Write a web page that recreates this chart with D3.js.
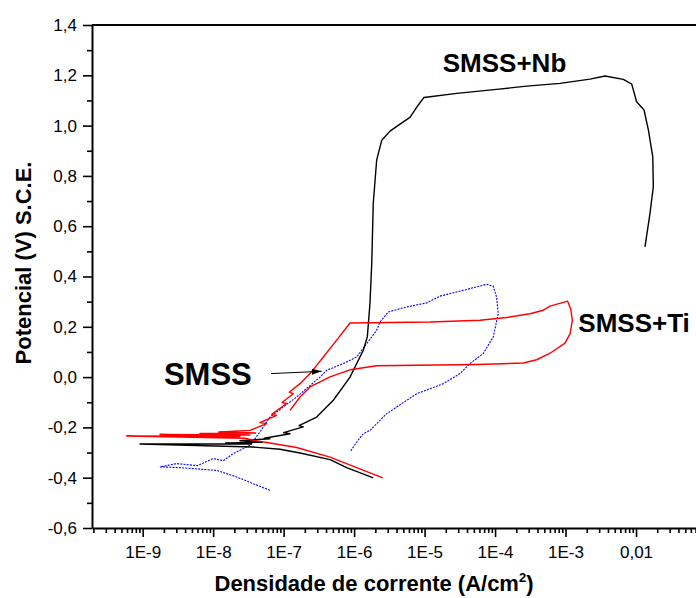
<!DOCTYPE html>
<html><head><meta charset="utf-8">
<script src="https://cdn.jsdelivr.net/npm/d3@7"></script>
<style>html,body{margin:0;padding:0;background:#fff;overflow:hidden}</style>
</head><body><svg id="c" width="696" height="598"></svg>
<script>
// ---- data ----
const yTicks = [-0.6, -0.4, -0.2, 0.0, 0.2, 0.4, 0.6, 0.8, 1.0, 1.2, 1.4];
const yTickLabels = ["-0,6", "-0,4", "-0,2", "0,0", "0,2", "0,4", "0,6", "0,8", "1,0", "1,2", "1,4"];
const yMinor = [-0.5, -0.3, -0.1, 0.1, 0.3, 0.5, 0.7, 0.9, 1.1, 1.3];
const xTicks = [1e-9, 1e-8, 1e-7, 1e-6, 1e-5, 1e-4, 1e-3, 1e-2];
const xTickLabels = ["1E-9", "1E-8", "1E-7", "1E-6", "1E-5", "1E-4", "1E-3", "0,01"];

// SMSS (blue, dotted): [current density A/cm2, potential V]
const smss = [
  [6.40e-8, -0.450], [3.71e-8, -0.424], [2.16e-8, -0.397], [1.12e-8, -0.371], [3.38e-9, -0.360],
  [1.76e-9, -0.357], [3.04e-9, -0.344], [6.0e-9, -0.352], [1.00e-8, -0.324], [1.4e-8, -0.332],
  [1.93e-8, -0.304], [3.33e-8, -0.271], [4.62e-8, -0.218], [6.40e-8, -0.159], [9.88e-8, -0.119],
  [1.53e-7, -0.079], [3.28e-7, 0.000], [4.08e-7, 0.027], [7.03e-7, 0.054], [1.09e-6, 0.080],
  [1.51e-6, 0.133], [2.09e-6, 0.186], [2.33e-6, 0.219], [3.05e-6, 0.259], [5.57e-6, 0.279],
  [1.07e-5, 0.295], [1.66e-5, 0.322], [3.54e-5, 0.345], [7.60e-5, 0.369], [9.44e-5, 0.361],
  [1.05e-4, 0.319], [1.11e-4, 0.253], [9.44e-5, 0.160], [6.81e-5, 0.094], [4.42e-5, 0.054],
  [3.18e-5, 0.014], [1.85e-5, -0.026], [7.73e-6, -0.066], [4.02e-6, -0.119], [2.90e-6, -0.145],
  [1.68e-6, -0.212], [1.35e-6, -0.225], [1.09e-6, -0.258], [8.75e-7, -0.298]
];

// SMSS+Ti (red)
const smssTi = [
  [2.55e-6, -0.401], [4.55e-7, -0.318], [1.53e-7, -0.280], [6.40e-8, -0.262], [3.71e-8, -0.251],
  [2.83e-8, -0.243], [5.93e-10, -0.234], [2.40e-8, -0.236], [1.76e-9, -0.228], [3.33e-8, -0.230],
  [6.50e-9, -0.224], [4.0e-8, -0.222], [1.2e-8, -0.218], [3.33e-8, -0.212], [5.75e-8, -0.185],
  [4.6e-8, -0.181], [7.97e-8, -0.152], [6.8e-8, -0.148], [1.10e-7, -0.105], [9.5e-8, -0.101],
  [1.37e-7, -0.066], [1.2e-7, -0.060], [1.71e-7, -0.026], [2.37e-7, 0.014],
  [3.66e-7, 0.080], [5.66e-7, 0.147], [8.75e-7, 0.215], [1.19e-5, 0.219], [6.11e-5, 0.226],
  [1.46e-4, 0.237], [3.13e-4, 0.252], [4.84e-4, 0.266], [6.03e-4, 0.282], [1.07e-3, 0.302],
  [1.18e-3, 0.273], [1.25e-3, 0.226], [1.16e-3, 0.173], [9.84e-4, 0.135], [6.03e-4, 0.095],
  [3.90e-4, 0.069], [2.52e-4, 0.056], [5.50e-5, 0.050], [2.09e-6, 0.045], [8.75e-7, 0.029],
  [4.55e-7, 0.001], [2.37e-7, -0.039], [1.71e-7, -0.079], [1.23e-7, -0.132]
];

// SMSS+Nb (black)
const smssNb = [
  [1.87e-6, -0.401], [7.85e-7, -0.360], [4.55e-7, -0.328], [1.71e-7, -0.302], [8.87e-8, -0.287],
  [3.67e-8, -0.278], [9.16e-10, -0.266], [3.5e-8, -0.266], [1.5e-8, -0.262], [5.0e-8, -0.259],
  [2.4e-8, -0.253], [6.40e-8, -0.245], [5.3e-8, -0.243], [1.23e-7, -0.225], [1.0e-7, -0.221],
  [1.90e-7, -0.198], [1.65e-7, -0.193], [2.94e-7, -0.159],
  [5.07e-7, -0.092], [8.75e-7, 0.000], [1.35e-6, 0.107], [1.54e-6, 0.160], [1.68e-6, 0.293],
  [1.78e-6, 0.453], [1.87e-6, 0.690], [2.09e-6, 0.863], [2.47e-6, 0.942], [3.23e-6, 0.978],
  [4.48e-6, 1.006], [6.21e-6, 1.033], [8.15e-6, 1.082], [9.82e-6, 1.112], [2.86e-5, 1.128],
  [1.05e-4, 1.144], [2.81e-4, 1.157], [8.36e-4, 1.168], [2.22e-3, 1.185], [3.63e-3, 1.197],
  [6.61e-3, 1.184], [8.69e-3, 1.165], [1.02e-2, 1.095], [1.30e-2, 1.062], [1.50e-2, 0.982],
  [1.73e-2, 0.876], [1.76e-2, 0.757], [1.58e-2, 0.651], [1.34e-2, 0.518]
];

// annotation anchors (data units)
const labelNb = {text: "SMSS+Nb", i: 1.81e-5, e: 1.215};
const labelTi = {text: "SMSS+Ti", i: 1.52e-3, e: 0.180};
const labelSmss = {text: "SMSS", i: 2.0e-9, e: -0.033};
const arrowSmss = {from: [6.62e-8, 0.014], to: [3.47e-7, 0.023]};

// ---- chart ----
const svg = d3.select("#c");
const font = "'Liberation Sans', Arial, sans-serif";
const x = d3.scaleLog().domain([1.91e-10, 0.071]).range([92, 696]);
const y = d3.scaleLinear().domain([-0.6, 1.4]).range([528, 25]);

// minor x ticks
const xMinor = [];
for (let d = -10; d <= -1; d++) {
  for (let m = 2; m <= 9; m++) {
    const v = m * Math.pow(10, d);
    if (v >= x.domain()[0] && v <= x.domain()[1]) xMinor.push(v);
  }
}

const gx = svg.append("g").attr("transform", `translate(0,${y(-0.6)})`)
  .call(d3.axisBottom(x).tickValues(xTicks).tickFormat((d, i) => xTickLabels[i])
    .tickSize(9).tickSizeOuter(0).tickPadding(9));
gx.select(".domain").attr("stroke-width", 2);
gx.selectAll(".tick line").attr("stroke-width", 1.6);
gx.selectAll(".tick text").attr("font-family", font).attr("font-size", 17).attr("fill", "#000");

const gxm = svg.append("g").attr("transform", `translate(0,${y(-0.6)})`)
  .call(d3.axisBottom(x).tickValues(xMinor).tickFormat("").tickSize(5).tickSizeOuter(0));
gxm.select(".domain").remove();
gxm.selectAll(".tick line").attr("stroke-width", 1.6);

const gy = svg.append("g").attr("transform", `translate(${x.range()[0]},0)`)
  .call(d3.axisLeft(y).tickValues(yTicks).tickFormat((d, i) => yTickLabels[i])
    .tickSize(9).tickSizeOuter(0).tickPadding(6));
gy.select(".domain").attr("stroke-width", 2);
gy.selectAll(".tick line").attr("stroke-width", 1.6);
gy.selectAll(".tick text").attr("font-family", font).attr("font-size", 17).attr("fill", "#000");

const gym = svg.append("g").attr("transform", `translate(${x.range()[0]},0)`)
  .call(d3.axisLeft(y).tickValues(yMinor).tickFormat("").tickSize(5).tickSizeOuter(0));
gym.select(".domain").remove();
gym.selectAll(".tick line").attr("stroke-width", 1.6);

// top frame line
svg.append("line").attr("x1", x.range()[0]).attr("x2", x.range()[1])
  .attr("y1", y(1.4)).attr("y2", y(1.4)).attr("stroke", "#000").attr("stroke-width", 2);

// curves
const line = d3.line().x(d => x(d[0])).y(d => y(d[1]));
svg.append("path").datum(smss).attr("d", line).attr("fill", "none")
  .attr("stroke", "#0000ff").attr("stroke-width", 1.1).attr("stroke-dasharray", "2,1.2");
svg.append("path").datum(smssNb).attr("d", line).attr("fill", "none")
  .attr("stroke", "#000").attr("stroke-width", 1.4).attr("stroke-linejoin", "round");
svg.append("path").datum(smssTi).attr("d", line).attr("fill", "none")
  .attr("stroke", "#ff0000").attr("stroke-width", 1.4).attr("stroke-linejoin", "round");

// axis titles
const xt = svg.append("text").attr("x", 374).attr("y", 591).attr("text-anchor", "middle")
  .attr("font-family", font).attr("font-weight", "bold").attr("font-size", 22);
xt.append("tspan").text("Densidade de corrente (A/cm");
xt.append("tspan").attr("font-size", 13).attr("dy", -9).text("2");
xt.append("tspan").attr("dy", 9).text(")");

svg.append("text").attr("transform", "translate(31,263) rotate(-90)").attr("text-anchor", "middle")
  .attr("font-family", font).attr("font-weight", "bold").attr("font-size", 22)
  .text("Potencial (V) S.C.E.");

// annotations
[[labelNb, 26], [labelTi, 26], [labelSmss, 31]].forEach(([l, fs]) => {
  svg.append("text").attr("x", x(l.i)).attr("y", y(l.e))
    .attr("font-family", font).attr("font-weight", "bold").attr("font-size", fs)
    .attr("fill", "#000").text(l.text);
});
svg.append("defs").append("marker").attr("id", "ah").attr("viewBox", "0 0 10 6")
  .attr("refX", 10).attr("refY", 3).attr("markerWidth", 10).attr("markerHeight", 6)
  .attr("markerUnits", "userSpaceOnUse").attr("orient", "auto")
  .append("path").attr("d", "M0,0L10,3L0,6Z").attr("fill", "#000");
svg.append("line")
  .attr("x1", x(arrowSmss.from[0])).attr("y1", y(arrowSmss.from[1]))
  .attr("x2", x(arrowSmss.to[0])).attr("y2", y(arrowSmss.to[1]))
  .attr("stroke", "#000").attr("stroke-width", 1).attr("marker-end", "url(#ah)");
</script></body></html>
